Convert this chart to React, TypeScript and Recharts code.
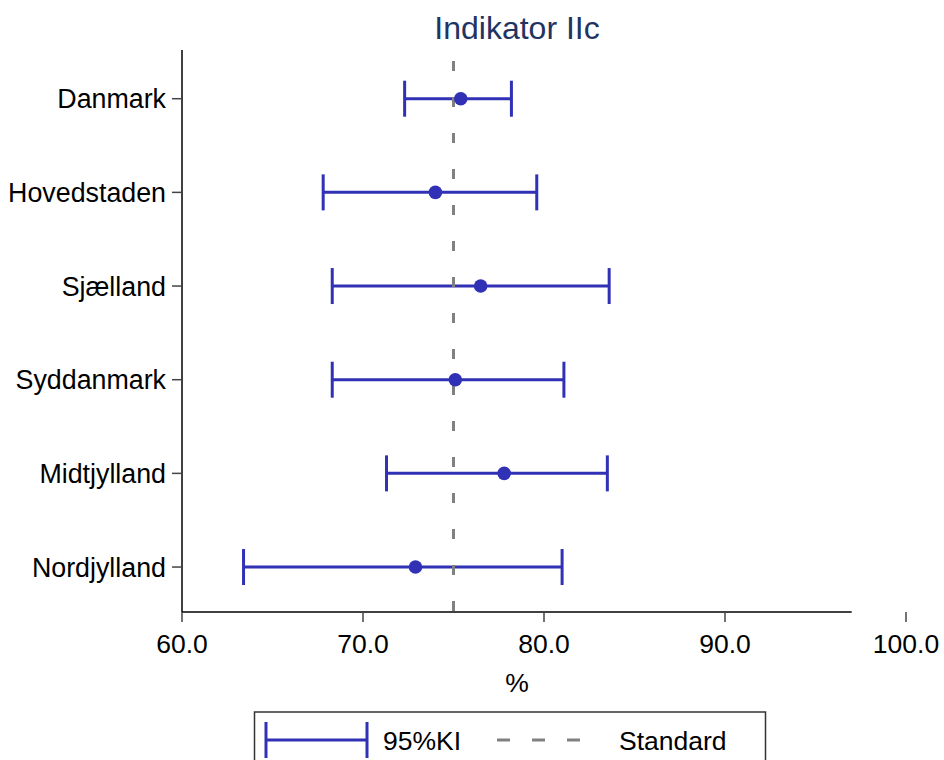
import React from 'react';
import { ScatterChart, Scatter, XAxis, YAxis, ErrorBar, ReferenceLine } from 'recharts';

const regions = ['Danmark', 'Hovedstaden', 'Sjælland', 'Syddanmark', 'Midtjylland', 'Nordjylland'];
const estimate = [75.4, 74.0, 76.5, 75.1, 77.8, 72.9];
const lower = [72.3, 67.8, 68.3, 68.3, 71.3, 63.4];
const upper = [78.2, 79.6, 83.6, 81.1, 83.5, 81.0];
const xTicks = [60, 70, 80, 90, 100];
const standard = 75;
const xAxisEnd = 97;
const title = 'Indikator IIc';
const xLabel = '%';
const legendCI = '95%KI';
const legendStd = 'Standard';

const rows = regions.map((r, i) => ({
  region: r,
  pos: i + 1,
  est: estimate[i],
  err: [estimate[i] - lower[i], upper[i] - estimate[i]],
}));

const FONT = '"Liberation Sans", Arial, Helvetica, sans-serif';
const BLUE = '#3131b6';
const GRAY = '#808080';
const Y_DOMAIN: [number, number] = [0.48, 6.48];

const Dot = (props: any) => <circle cx={props.cx} cy={props.cy} r={6.8} fill={BLUE} />;

export default function App() {
  return (
    <div style={{ position: 'absolute', left: 0, top: 0, width: 944, height: 760, background: '#fff', fontFamily: FONT, overflow: 'hidden' }}>
      <ScatterChart width={944} height={712} margin={{ top: 50, right: 38, bottom: 0, left: 0 }} style={{ fontFamily: FONT }}>
        <XAxis
          type="number"
          dataKey="est"
          domain={[60, 100]}
          ticks={xTicks}
          interval={0}
          allowDataOverflow
          tickFormatter={(v: number) => v.toFixed(1)}
          axisLine={false}
          tickLine={{ stroke: '#444', strokeWidth: 1.5 }}
          tickSize={10}
          tickMargin={12}
          height={100}
          tick={{ fill: '#000', fontSize: 26.5, fontFamily: FONT }}
        />
        <YAxis
          type="number"
          dataKey="pos"
          domain={Y_DOMAIN}
          reversed
          ticks={[1, 2, 3, 4, 5, 6]}
          interval={0}
          allowDataOverflow
          tickFormatter={(v: number) => regions[v - 1]}
          axisLine={{ stroke: '#000', strokeWidth: 1.5 }}
          tickLine={{ stroke: '#444', strokeWidth: 1.5 }}
          tickSize={10}
          tickMargin={6}
          width={182}
          tick={{ fill: '#000', fontSize: 26.8, fontFamily: FONT }}
        />
        <ReferenceLine
          segment={[{ x: 60, y: Y_DOMAIN[1] }, { x: xAxisEnd, y: Y_DOMAIN[1] }]}
          stroke="#000"
          strokeWidth={1.5}
        />
        <Scatter data={rows} shape={Dot} isAnimationActive={false}>
          <ErrorBar dataKey="err" direction="x" width={18} stroke={BLUE} strokeWidth={3} isAnimationActive={false} />
        </Scatter>
        <ReferenceLine
          segment={[{ x: standard, y: Y_DOMAIN[0] }, { x: standard, y: Y_DOMAIN[1] }]}
          stroke={GRAY}
          strokeWidth={3}
          strokeDasharray="0 11 10 15"
        />
      </ScatterChart>
      <svg width={944} height={760} style={{ position: 'absolute', left: 0, top: 0, pointerEvents: 'none', fontFamily: FONT }}>
        <text x={517} y={39} textAnchor="middle" fontSize={32} fill="#1f3462">{title}</text>
        <text x={517} y={692} textAnchor="middle" fontSize={26.5} fill="#000">{xLabel}</text>
        <rect x={254.5} y={712} width={511} height={60} fill="none" stroke="#333" strokeWidth={1.5} />
        <line x1={266} y1={740} x2={367} y2={740} stroke={BLUE} strokeWidth={3} />
        <line x1={266} y1={722} x2={266} y2={758} stroke={BLUE} strokeWidth={3} />
        <line x1={367} y1={722} x2={367} y2={758} stroke={BLUE} strokeWidth={3} />
        <text x={383} y={750} fontSize={26.5} fill="#000">{legendCI}</text>
        <line x1={497} y1={740} x2={580} y2={740} stroke={GRAY} strokeWidth={3} strokeDasharray="13 22" />
        <text x={619} y={750} fontSize={26.5} fill="#000">{legendStd}</text>
      </svg>
    </div>
  );
}
